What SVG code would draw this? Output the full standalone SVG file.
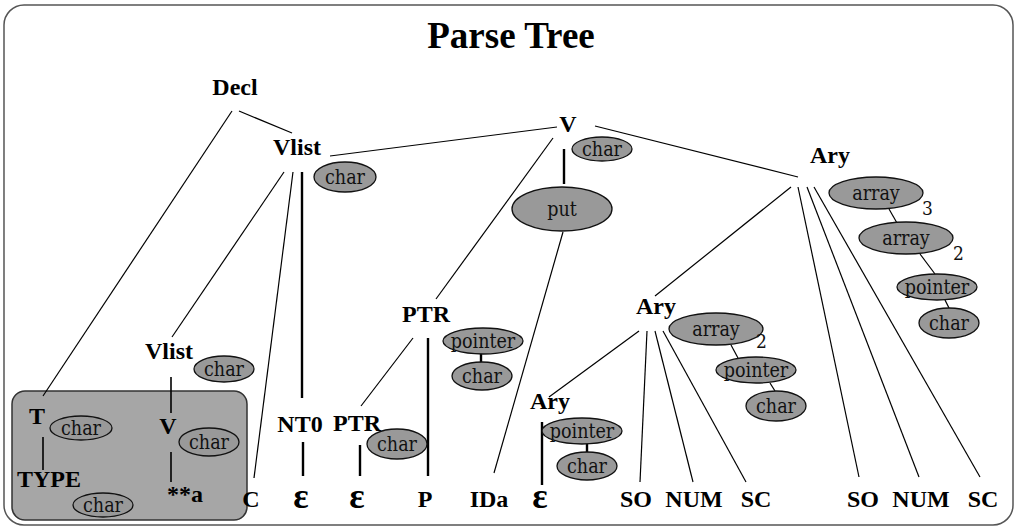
<svg xmlns="http://www.w3.org/2000/svg" width="1016" height="527" viewBox="0 0 1016 527">
<style>
.frame{fill:#fff;stroke:#555;stroke-width:1.5}
.box{fill:#a6a6a6;stroke:#333;stroke-width:1.5}
.title{font-family:"Liberation Serif",serif;font-weight:bold;font-size:37px;text-anchor:middle;fill:#000}
.n{font-family:"Liberation Serif",serif;font-weight:bold;font-size:24px;text-anchor:middle;fill:#000}
.eps{font-family:"Liberation Serif",serif;font-weight:bold;font-size:36px;text-anchor:middle;fill:#000}
.e{fill:#999;stroke:#111;stroke-width:1.3}
.et{font-family:"DejaVu Serif Condensed","DejaVu Serif",serif;font-size:19.5px;text-anchor:middle;fill:#111}
.num{font-family:"DejaVu Serif Condensed","DejaVu Serif",serif;font-size:19px;fill:#111}
.l{stroke:#000;stroke-width:1.2;fill:none}
.t{stroke:#000;stroke-width:2.4;fill:none}
.m{stroke:#000;stroke-width:1.6;fill:none}
</style>
<rect class="frame" x="4" y="5" width="1009" height="520" rx="20"/>
<text class="title" x="511" y="48">Parse Tree</text>
<rect class="box" x="12" y="391" width="235" height="129" rx="13"/>
<g id="connectors">
<line class="l" x1="232" y1="111" x2="43" y2="396"/>
<line class="l" x1="239" y1="111" x2="292" y2="133"/>
<line class="l" x1="330" y1="156" x2="557" y2="127"/>
<line class="l" x1="284" y1="172" x2="172" y2="337"/>
<line class="l" x1="293" y1="172" x2="254" y2="478"/>
<line class="t" x1="302" y1="172" x2="302" y2="398"/>
<line class="t" x1="303" y1="442" x2="303" y2="476"/>
<line class="m" x1="171" y1="377" x2="171" y2="413"/>
<line class="m" x1="43" y1="437" x2="43" y2="470"/>
<line class="m" x1="171" y1="452" x2="171" y2="482"/>
<line class="t" x1="564" y1="149" x2="564" y2="184"/>
<line class="l" x1="563" y1="232" x2="494" y2="473"/>
<line class="l" x1="553" y1="138" x2="436" y2="299"/>
<line class="l" x1="595" y1="126" x2="798" y2="177"/>
<line class="l" x1="413" y1="338" x2="361" y2="406"/>
<line class="t" x1="428" y1="338" x2="428" y2="476"/>
<line class="t" x1="360" y1="445" x2="360" y2="476"/>
<line class="t" x1="481" y1="354" x2="481" y2="363"/>
<line class="l" x1="791" y1="187" x2="655" y2="296"/>
<line class="l" x1="798" y1="187" x2="859" y2="477"/>
<line class="l" x1="807" y1="187" x2="919" y2="477"/>
<line class="l" x1="814" y1="187" x2="980" y2="477"/>
<line class="l" x1="639" y1="331" x2="549" y2="397"/>
<line class="l" x1="647" y1="331" x2="640" y2="482"/>
<line class="l" x1="655" y1="331" x2="693" y2="482"/>
<line class="l" x1="663" y1="331" x2="746" y2="482"/>
<line class="t" x1="542" y1="422" x2="542" y2="485"/>
<line class="t" x1="587" y1="444" x2="587" y2="453"/>
<line class="l" x1="889" y1="209" x2="897" y2="223"/>
<line class="l" x1="920" y1="254" x2="935" y2="274"/>
<line class="l" x1="945" y1="300" x2="949" y2="308"/>
<line class="l" x1="731" y1="345" x2="738" y2="358"/>
<line class="l" x1="770" y1="383" x2="775" y2="391"/>
</g>
<g id="decl"><text class="n" x="235" y="95">Decl</text></g>
<g id="vlist1"><text class="n" x="297" y="155">Vlist</text>
<ellipse class="e" cx="345" cy="177" rx="31" ry="15"/><text class="et" x="345" y="183.5">char</text></g>
<g id="v1"><text class="n" x="568" y="132">V</text>
<ellipse class="e" cx="602" cy="149" rx="30" ry="12"/><text class="et" x="602" y="155.5">char</text></g>
<g id="put"><ellipse class="e" cx="562" cy="209" rx="50" ry="22"/><text class="et" x="562" y="215.5">put</text></g>
<g id="ary1"><text class="n" x="830" y="163">Ary</text>
<ellipse class="e" cx="876" cy="193" rx="47" ry="16"/><text class="et" x="876" y="199.5">array</text>
<text class="num" x="922" y="215">3</text>
<ellipse class="e" cx="906" cy="238" rx="47" ry="16"/><text class="et" x="906" y="244.5">array</text>
<text class="num" x="953" y="260">2</text>
<ellipse class="e" cx="937" cy="287" rx="40" ry="13"/><text class="et" x="937" y="293.5">pointer</text>
<ellipse class="e" cx="949" cy="323" rx="30" ry="15"/><text class="et" x="949" y="329.5">char</text></g>
<g id="vlist2"><text class="n" x="169" y="359">Vlist</text>
<ellipse class="e" cx="224" cy="369" rx="30" ry="13"/><text class="et" x="224" y="375.5">char</text></g>
<g id="t"><text class="n" x="37" y="424">T</text>
<ellipse class="e" cx="81" cy="428" rx="31" ry="12"/><text class="et" x="81" y="434.5">char</text></g>
<g id="type"><text class="n" x="49" y="487">TYPE</text>
<ellipse class="e" cx="103" cy="505" rx="30" ry="12"/><text class="et" x="103" y="511.5">char</text></g>
<g id="v2"><text class="n" x="168" y="434">V</text>
<ellipse class="e" cx="209" cy="442" rx="30" ry="14"/><text class="et" x="209" y="448.5">char</text></g>
<g id="stara"><text class="n" x="185" y="502">**a</text></g>
<g id="nt0"><text class="n" x="300" y="432">NT0</text></g>
<g id="ptr1"><text class="n" x="426" y="322">PTR</text>
<ellipse class="e" cx="483" cy="341" rx="40" ry="13"/><text class="et" x="483" y="347.5">pointer</text>
<ellipse class="e" cx="482" cy="376" rx="30" ry="14"/><text class="et" x="482" y="382.5">char</text></g>
<g id="ptr2"><text class="n" x="357" y="431">PTR</text>
<ellipse class="e" cx="397" cy="444" rx="30" ry="15"/><text class="et" x="397" y="450.5">char</text></g>
<g id="ary2"><text class="n" x="656" y="314">Ary</text>
<ellipse class="e" cx="716" cy="329" rx="47" ry="16"/><text class="et" x="716" y="335.5">array</text>
<text class="num" x="756" y="348">2</text>
<ellipse class="e" cx="756" cy="370" rx="40" ry="13"/><text class="et" x="756" y="376.5">pointer</text>
<ellipse class="e" cx="776" cy="406" rx="30" ry="15"/><text class="et" x="776" y="412.5">char</text></g>
<g id="ary3"><text class="n" x="550" y="409">Ary</text>
<ellipse class="e" cx="582" cy="431" rx="40" ry="13"/><text class="et" x="582" y="437.5">pointer</text>
<ellipse class="e" cx="587" cy="466" rx="30" ry="14"/><text class="et" x="587" y="472.5">char</text></g>
<g id="leaves">
<text class="n" x="251" y="507">C</text>
<text class="eps" x="301" y="508">ε</text>
<text class="eps" x="357" y="508">ε</text>
<text class="n" x="425" y="507">P</text>
<text class="n" x="489" y="507">IDa</text>
<text class="eps" x="540" y="508">ε</text>
<text class="n" x="636" y="507">SO</text>
<text class="n" x="694" y="507">NUM</text>
<text class="n" x="756" y="507">SC</text>
<text class="n" x="863" y="507">SO</text>
<text class="n" x="921" y="507">NUM</text>
<text class="n" x="983" y="507">SC</text>
</g>
</svg>
